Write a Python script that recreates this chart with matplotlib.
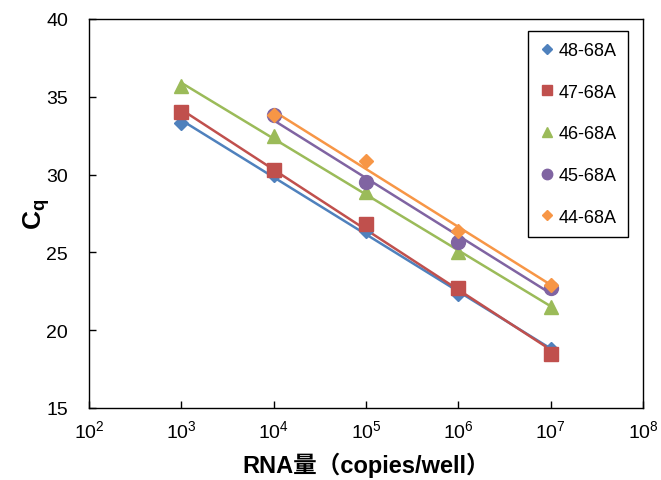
import numpy as np
import matplotlib
matplotlib.use("Agg")
import matplotlib.pyplot as plt

plt.rcParams['font.family'] = ['Liberation Sans', 'Noto Sans CJK SC']
plt.rcParams['mathtext.fontset'] = 'custom'
plt.rcParams['mathtext.rm'] = 'Liberation Sans'
plt.rcParams['mathtext.it'] = 'Liberation Sans:italic'
plt.rcParams['mathtext.bf'] = 'Liberation Sans:bold'

# copies per well
x5 = [1e3, 1e4, 1e5, 1e6, 1e7]
x4 = [1e4, 1e5, 1e6, 1e7]

cq_48 = [33.3, 30.0, 26.4, 22.3, 18.8]
cq_47 = [34.0, 30.3, 26.8, 22.7, 18.5]
cq_46 = [35.7, 32.5, 28.9, 25.0, 21.5]
cq_45 = [33.8, 29.5, 25.7, 22.7]
cq_44 = [33.8, 30.9, 26.4, 22.9]

names = ['48-68A', '47-68A', '46-68A', '45-68A', '44-68A']
xs = [x5, x5, x5, x4, x4]
ys = [cq_48, cq_47, cq_46, cq_45, cq_44]
colors = ['#4F81BD', '#C0504D', '#9BBB59', '#8064A2', '#F79646']
markers = ['D', 's', '^', 'o', 'D']
msizes = [7, 10, 10, 10, 7]

fig = plt.figure(figsize=(6.61, 4.81), dpi=100)
ax = fig.add_axes([89/661, 1-409/481, (643-89)/661, (409-20)/481])

for x, y, c, m, ms, n in zip(xs, ys, colors, markers, msizes, names):
    x = np.array(x); y = np.array(y)
    # linear trendline in log10(x)
    k, b = np.polyfit(np.log10(x), y, 1)
    ax.plot(x, k*np.log10(x)+b, color=c, lw=1.8, zorder=2)
    ax.plot(x, y, ls='none', marker=m, ms=ms, color=c, label=n, zorder=3)

ax.set_xscale('log')
ax.set_xlim(1e2, 1e8)
ax.set_ylim(15, 40)
ax.set_yticks([15, 20, 25, 30, 35, 40])
ax.set_xticks([1e2, 1e3, 1e4, 1e5, 1e6, 1e7, 1e8])
ax.minorticks_off()
ax.tick_params(direction='in', length=5, width=1, labelsize=14)
ax.tick_params(axis='y', pad=15)
ax.tick_params(axis='x', pad=8)
for s in ax.spines.values():
    s.set_linewidth(1.0)

ax.set_xlabel('RNA量（copies/well）', fontsize=17, fontweight='bold', labelpad=8)
ax.set_ylabel(r'$\mathbf{C_q}$', fontsize=19, labelpad=-4)

leg = ax.legend(loc='upper right', bbox_to_anchor=(628/661, 1-32/481), bbox_transform=fig.transFigure,
                fontsize=13, labelspacing=1.37, handlelength=0.9, handletextpad=0.2,
                borderpad=0.6, borderaxespad=0, fancybox=False, edgecolor='black', framealpha=1,
                markerscale=0.75)
leg.get_frame().set_linewidth(1.0)

plt.savefig('out.png', dpi=100)
